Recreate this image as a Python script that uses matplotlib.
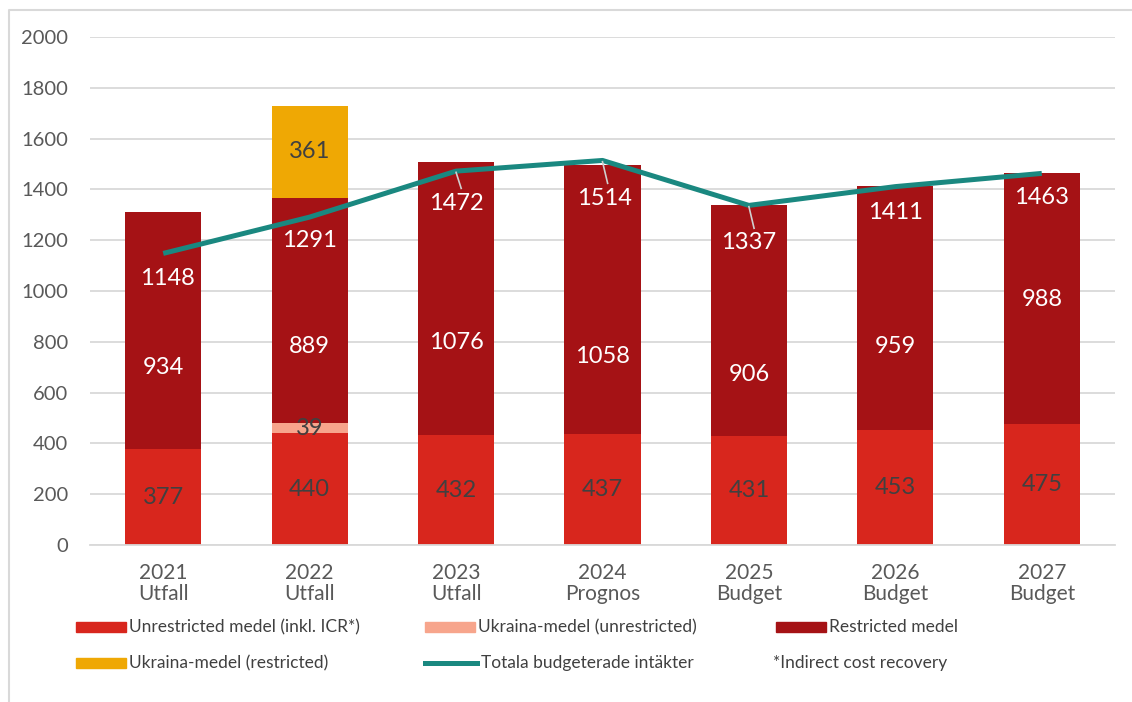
import matplotlib
matplotlib.use("Agg")
import matplotlib.pyplot as plt
import numpy as np
from matplotlib.patches import Rectangle
from matplotlib.lines import Line2D

plt.rcParams['font.family'] = ['Lato', 'DejaVu Sans']

# ---- data ----
years = ["2021", "2022", "2023", "2024", "2025", "2026", "2027"]
kinds = ["Utfall", "Utfall", "Utfall", "Prognos", "Budget", "Budget", "Budget"]
unrestricted = [377, 440, 432, 437, 431, 453, 475]
ukraina_unrestricted = [0, 39, 0, 0, 0, 0, 0]
restricted = [934, 889, 1076, 1058, 906, 959, 988]
ukraina_restricted = [0, 361, 0, 0, 0, 0, 0]
totala = [1148, 1291, 1472, 1514, 1337, 1411, 1463]

legend_labels = ["Unrestricted medel (inkl. ICR*)", "Ukraina-medel (unrestricted)",
                 "Restricted medel", "Ukraina-medel (restricted)",
                 "Totala budgeterade intäkter", "*Indirect cost recovery"]

# ---- layout (label placement) ----
restricted_label_y = [700, 780, 799, 744, 673, 783, 965]
total_label_drop = [97, 91, 126, 148, 148, 100, 93]
total_label_dx = [0.03, 0.0, 0.0, 0.01, 0.0, 0.0, 0.0]
leader = [False, False, True, True, True, False, False]

c_unres = "#D8261D"
c_ukr_unres = "#F7A58C"
c_res = "#A51215"
c_ukr_res = "#EFA804"
c_line = "#1A8880"
c_text = "#595959"
c_dark = "#404040"
c_grid = "#D9D9D9"

W, H = 1132, 702
fig = plt.figure(figsize=(W / 100, H / 100), dpi=100)
ax = fig.add_axes([90 / W, 1 - 545 / H, (1115 - 90) / W, (545 - 37) / H])

x = np.arange(len(years))
bw = 0.52
u = np.array(unrestricted)
uu = np.array(ukraina_unrestricted)
r = np.array(restricted)
ur = np.array(ukraina_restricted)

ax.bar(x, u, bw, color=c_unres, zorder=2)
ax.bar(x, uu, bw, bottom=u, color=c_ukr_unres, zorder=2)
ax.bar(x, r, bw, bottom=u + uu, color=c_res, zorder=2)
ax.bar(x, ur, bw, bottom=u + uu + r, color=c_ukr_res, zorder=2)
ax.plot(x, totala, color=c_line, lw=3.6, zorder=3, solid_capstyle='butt')

ax.set_xlim(-0.5, len(years) - 0.5)
ax.set_ylim(0, 2000)
ax.set_yticks(range(0, 2001, 200))
ax.yaxis.grid(True, color=c_grid, lw=1.3, zorder=0)
ax.set_axisbelow(True)
for s in ["top", "right", "left"]:
    ax.spines[s].set_visible(False)
ax.spines["bottom"].set_color(c_grid)
ax.spines["bottom"].set_linewidth(1.3)
ax.tick_params(axis='y', length=0, pad=16, labelsize=14.5, labelcolor=c_text)
ax.tick_params(axis='x', length=0, pad=13, labelsize=15, labelcolor=c_text)
ax.set_xticks(x)
ax.set_xticklabels([f"{y}\n{k}" for y, k in zip(years, kinds)], linespacing=1.05)

fs = 17
for i in range(len(years)):
    ax.text(x[i], u[i] / 2, str(u[i]), ha='center', va='center', fontsize=fs, color=c_dark, zorder=4)
    if uu[i] > 0:
        ax.text(x[i], u[i] + uu[i] / 2, str(uu[i]), ha='center', va='center', fontsize=fs, color=c_dark, zorder=4)
    ax.text(x[i], restricted_label_y[i], str(r[i]), ha='center', va='center', fontsize=fs, color='white', zorder=4)
    if ur[i] > 0:
        ax.text(x[i], u[i] + uu[i] + r[i] + ur[i] / 2, str(ur[i]), ha='center', va='center', fontsize=fs, color=c_dark, zorder=4)
    ly = totala[i] - total_label_drop[i]
    ax.text(x[i] + total_label_dx[i], ly, str(totala[i]), ha='center', va='center', fontsize=fs, color='white', zorder=5)
    if leader[i]:
        ax.plot([x[i], x[i] + 0.035], [totala[i] - 5, ly + 58], color="#CFCFCF", lw=1.2, zorder=4)

# ---- legend (manual, placed in figure pixels) ----
def fy(py):
    return 1 - py / H

def patch(px, py, color):
    fig.patches.append(Rectangle((px / W, fy(py + 5)), 50 / W, 10 / H, transform=fig.transFigure,
                                 color=color, figure=fig))

def label(px, py, s):
    fig.text(px / W, fy(py), s, ha='left', va='center', fontsize=12.5, color=c_dark)

row1, row2 = 627, 663
patch(76, row1, c_unres); label(129, row1, legend_labels[0])
patch(425, row1, c_ukr_unres); label(478, row1, legend_labels[1])
patch(776, row1, c_res); label(829, row1, legend_labels[2])
patch(76, row2, c_ukr_res); label(129, row2, legend_labels[3])
fig.lines.append(Line2D([425 / W, 477 / W], [fy(row2), fy(row2)], transform=fig.transFigure,
                        color=c_line, lw=3.6, figure=fig))
label(481, row2, legend_labels[4])
label(773, row2, legend_labels[5])

# frame around the chart
fig.lines.append(Line2D([9 / W, 9 / W, 1.0], [0, fy(10), fy(10)], transform=fig.transFigure,
                        color="#D9D9D9", lw=1.5, figure=fig))

fig.savefig("out.png", dpi=100, facecolor='white')
